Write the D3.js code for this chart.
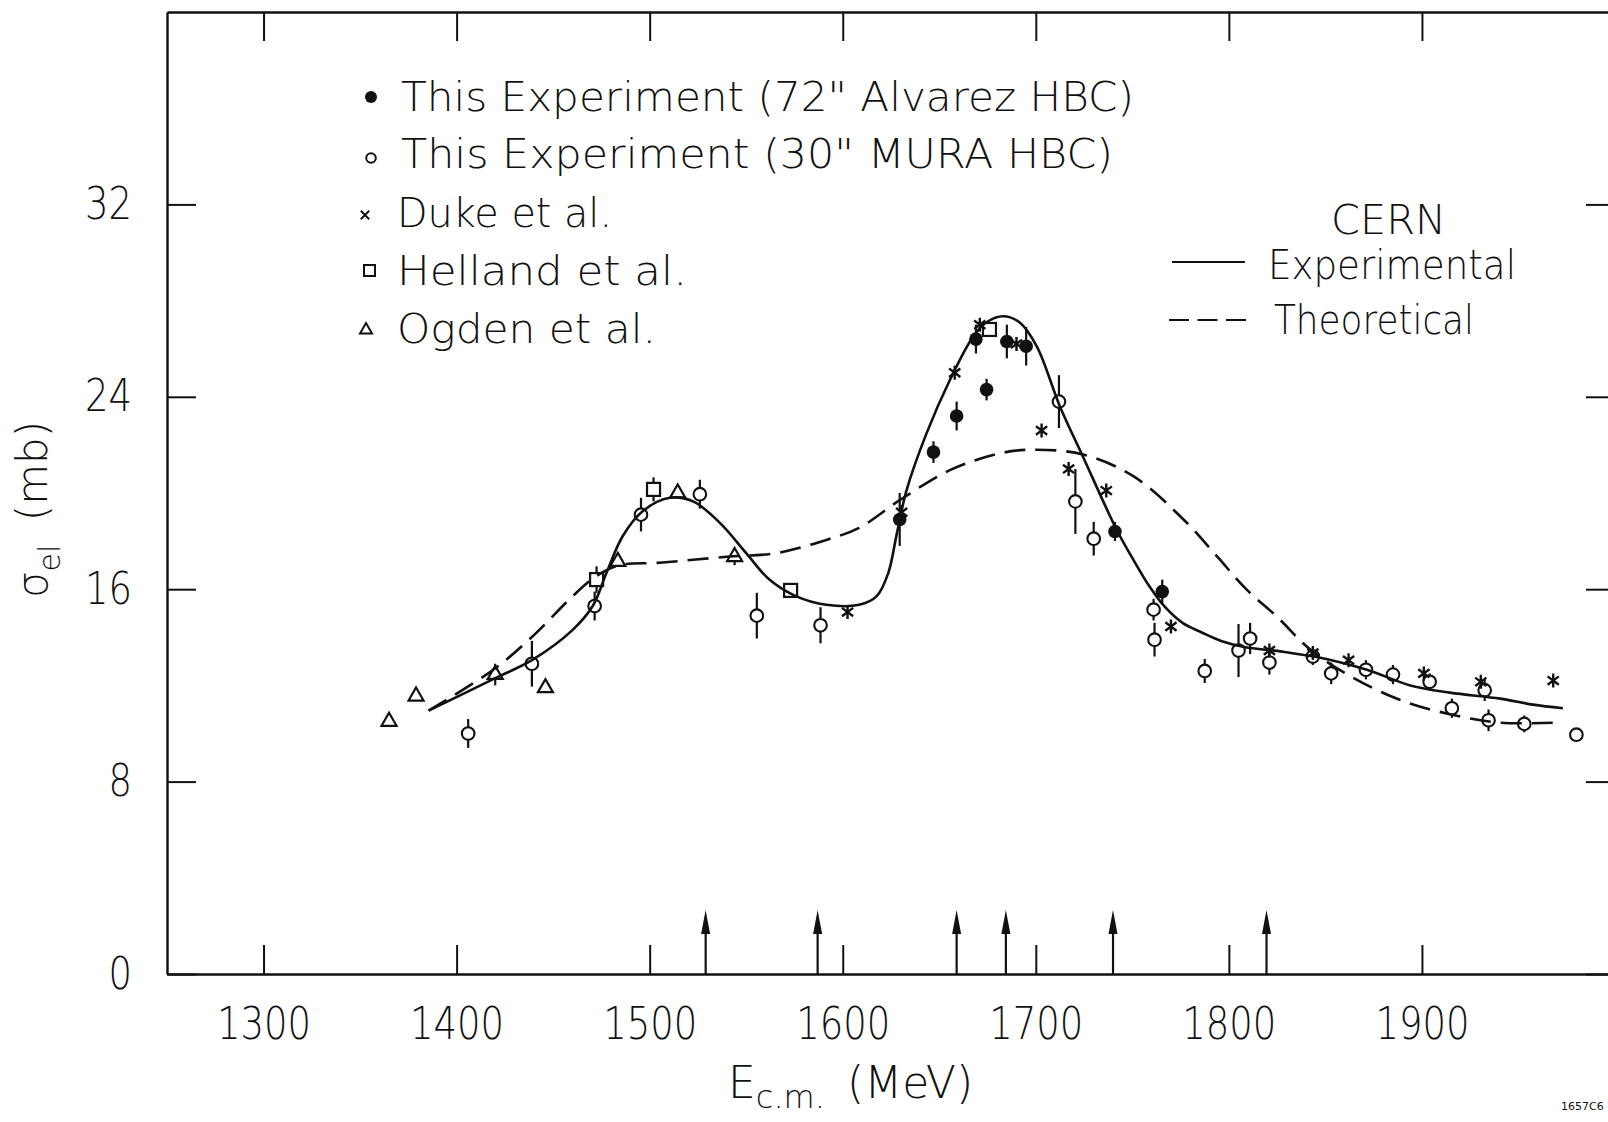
<!DOCTYPE html>
<html>
<head>
<meta charset="utf-8">
<script src="https://cdn.jsdelivr.net/npm/d3@7"></script>
<style>
  body { margin: 0; background: #ffffff; }
</style>
</head>
<body>
<div id="vis-container"></div>
<script>
// this experiment, 72" alvarez hbc (filled circles)
var alvarezE = [1629.5, 1647, 1659, 1669, 1674.5, 1685, 1695, 1741, 1765.5];
var alvarezS = [18.9, 21.7, 23.2, 26.4, 24.3, 26.3, 26.1, 18.4, 15.9];
var alvarezErr = [1.1, 0.45, 0.6, 0.6, 0.45, 0.7, 0.8, 0.4, 0.5];

// this experiment, 30" mura hbc (open circles)
var muraE = [1406, 1439, 1471.5, 1495.5, 1526, 1555.5, 1588.5, 1712, 1720.5, 1730, 1761, 1761.5, 1787.5,
	1805, 1811, 1821, 1843.5, 1853, 1871, 1885, 1904, 1915.5, 1932.5, 1934.5, 1953, 1980];
var muraS = [10.0, 12.9, 15.3, 19.1, 19.95, 14.9, 14.5, 23.8, 19.65, 18.1, 15.15, 13.9, 12.6,
	13.45, 13.95, 12.95, 13.2, 12.5, 12.65, 12.45, 12.15, 11.05, 11.8, 10.55, 10.4, 9.95];
var muraErr = [0.6, 0.95, 0.6, 0.7, 0.6, 0.95, 0.75, 1.1, 1.35, 0.7, 0.45, 0.7, 0.5,
	1.1, 0.65, 0.5, 0.35, 0.45, 0.4, 0.4, 0.35, 0.4, 0.45, 0.45, 0.35, 0];

// duke et al. (asterisks)
var dukeE = [1602.5, 1630.5, 1658, 1671, 1690, 1703, 1717, 1736.5, 1770, 1821, 1843.5, 1862, 1901, 1930.5, 1968];
var dukeS = [15.05, 19.2, 25.0, 27.0, 26.2, 22.6, 21.0, 20.1, 14.45, 13.45, 13.35, 13.05, 12.5, 12.15, 12.2];

// helland et al. (squares)
var hellandE = [1472.5, 1502, 1573, 1676];
var hellandS = [16.4, 20.15, 15.95, 26.8];
var hellandErr = [0.55, 0.5, 0, 0];

// ogden et al. (triangles)
var ogdenE = [1365, 1379, 1420, 1446, 1483.5, 1514.5, 1544];
var ogdenS = [10.5, 11.55, 12.45, 11.9, 17.15, 20.0, 17.35];
var ogdenErr = [0, 0, 0.45, 0, 0, 0, 0.35];

// cern experimental curve (solid)
var expE = [1385.5, 1420, 1439, 1460, 1470.5, 1477.5, 1486, 1496.5, 1510.5, 1522.5, 1536.5, 1550, 1562,
	1576, 1591.5, 1608.5, 1617.5, 1623.5, 1628, 1633, 1643.5, 1655.5, 1667.5, 1674.5, 1683, 1691.5,
	1700.5, 1712.5, 1724.5, 1742, 1750, 1759, 1767, 1776, 1786, 1796, 1808, 1828, 1850.5, 1871.5, 1894,
	1914.5, 1940.5, 1957.5, 1973];
var expS = [10.95, 12.3, 13.05, 14.3, 15.3, 16.65, 18.2, 19.25, 19.8, 19.65, 18.75, 17.5, 16.4,
	15.7, 15.35, 15.35, 15.7, 16.65, 18.3, 20.1, 22.5, 24.7, 26.5, 27.1, 27.35, 27.1,
	26.1, 23.6, 21.5, 18.45, 17.3, 16.1, 15.25, 14.6, 14.2, 13.85, 13.6, 13.4, 13.1, 12.65, 12.0,
	11.7, 11.45, 11.2, 11.05];

// cern theoretical curve (dashed)
var thE = [1385.5, 1419, 1439.5, 1460, 1472.5, 1484.5, 1505, 1540, 1565.5, 1591.5, 1608.5, 1629.5, 1655.5,
	1681.5, 1698.5, 1724.5, 1750.5, 1776.5, 1794, 1809, 1825, 1842, 1862.5, 1888.5, 1914.5, 1940.5, 1968];
var thS = [10.95, 12.65, 14.05, 15.7, 16.55, 17.0, 17.1, 17.35, 17.5, 18.05, 18.55, 19.7, 20.95,
	21.65, 21.8, 21.6, 20.7, 18.9, 17.35, 16.0, 14.85, 13.5, 12.4, 11.4, 10.8, 10.45, 10.45];

// resonance arrows
var arrowE = [1529, 1587, 1659, 1684.5, 1740, 1819.5];

// ticks
var xTicks = [1300, 1400, 1500, 1600, 1700, 1800, 1900];
var yTicks = [0, 8, 16, 24, 32];

var legendLabels = ["This Experiment (72\" Alvarez HBC)", "This Experiment (30\" MURA HBC)",
	"Duke et al.", "Helland et al.", "Ogden et al."];
var cernLabels = ["CERN", "Experimental", "Theoretical"];

// ------------------------------------------------------------
var width = 1608;
var height = 1122;
var font = "'DejaVu Sans', 'Liberation Sans', sans-serif";
var tickLen = 29;

var svg = d3.select("#vis-container")
	.append("svg")
	.attr("width", width)
	.attr("height", height)
	.style("background-color", "#ffffff");

var x = d3.scaleLinear().domain([1250, 2000]).range([167, 1615]);
var y = d3.scaleLinear().domain([0, 40]).range([974, 12]);

// axes (frame with inward ticks)
var gBottom = svg.append("g")
	.attr("transform", "translate(0," + y(0) + ")")
	.call(d3.axisBottom(x).tickValues(xTicks).tickFormat(d3.format("d"))
		.tickSizeInner(-tickLen).tickSizeOuter(0).tickPadding(34));
var gTop = svg.append("g")
	.attr("transform", "translate(0," + y(40) + ")")
	.call(d3.axisTop(x).tickValues(xTicks).tickSizeInner(-tickLen).tickSizeOuter(0).tickFormat(""));
var gLeft = svg.append("g")
	.attr("transform", "translate(" + x(1250) + ",0)")
	.call(d3.axisLeft(y).tickValues(yTicks).tickSizeInner(-tickLen).tickSizeOuter(0).tickPadding(35));
var gRight = svg.append("g")
	.attr("transform", "translate(" + x(2000) + ",0)")
	.call(d3.axisRight(y).tickValues(yTicks).tickSizeInner(-tickLen).tickSizeOuter(0).tickFormat(""));

[gBottom, gTop, gLeft, gRight].forEach(function (g) {
	g.attr("font-family", font).attr("font-size", 44);
	g.select(".domain").attr("stroke", "#111").attr("stroke-width", 2.4);
	g.selectAll(".tick line").attr("stroke", "#111").attr("stroke-width", 2);
	g.selectAll(".tick text")
		.attr("fill", "#111")
		.attr("font-weight", 200)
		.each(function () {
			d3.select(this)
				.attr("textLength", this.textContent.length * 23.5)
				.attr("lengthAdjust", "spacingAndGlyphs");
		});
});

// curves
var line = d3.line()
	.x(function (d) { return x(d[0]); })
	.y(function (d) { return y(d[1]); })
	.curve(d3.curveCatmullRom);

var plot = svg.append("g");

// error bars first, so open symbols sit on top of them
function errorBars(es, ss, errs) {
	for (var i = 0; i < es.length; ++i) {
		if (!errs[i]) continue;
		plot.append("line")
			.attr("x1", x(es[i])).attr("x2", x(es[i]))
			.attr("y1", y(ss[i] - errs[i])).attr("y2", y(ss[i] + errs[i]))
			.attr("stroke", "#111")
			.attr("stroke-width", 2.2);
	}
}
errorBars(alvarezE, alvarezS, alvarezErr);
errorBars(muraE, muraS, muraErr);
errorBars(hellandE, hellandS, hellandErr);
errorBars(ogdenE, ogdenS, ogdenErr);

function asterisk(cx, cy, s) {
	return "M" + cx + "," + (cy - s) + "L" + cx + "," + (cy + s) +
		"M" + (cx - s * 0.8) + "," + (cy - s * 0.6) + "L" + (cx + s * 0.8) + "," + (cy + s * 0.6) +
		"M" + (cx - s * 0.8) + "," + (cy + s * 0.6) + "L" + (cx + s * 0.8) + "," + (cy - s * 0.6);
}
function cross(cx, cy, s) {
	return "M" + (cx - s) + "," + (cy - s) + "L" + (cx + s) + "," + (cy + s) +
		"M" + (cx - s) + "," + (cy + s) + "L" + (cx + s) + "," + (cy - s);
}
function triangle(cx, cy, s) {
	var h = s * Math.sqrt(3) / 2;
	return "M" + cx + "," + (cy - h * 2 / 3) + "L" + (cx + s / 2) + "," + (cy + h / 3) +
		"L" + (cx - s / 2) + "," + (cy + h / 3) + "Z";
}

// ogden triangles
for (var i = 0; i < ogdenE.length; ++i) {
	plot.append("path")
		.attr("d", triangle(x(ogdenE[i]), y(ogdenS[i]), 15))
		.attr("fill", "#fff").attr("stroke", "#111").attr("stroke-width", 2.2);
}
// helland squares
for (var i = 0; i < hellandE.length; ++i) {
	plot.append("rect")
		.attr("x", x(hellandE[i]) - 6.5).attr("y", y(hellandS[i]) - 6.5)
		.attr("width", 13).attr("height", 13)
		.attr("fill", "#fff").attr("stroke", "#111").attr("stroke-width", 2.2);
}
// mura open circles
for (var i = 0; i < muraE.length; ++i) {
	plot.append("circle")
		.attr("cx", x(muraE[i])).attr("cy", y(muraS[i])).attr("r", 6.3)
		.attr("fill", "#fff").attr("stroke", "#111").attr("stroke-width", 2.1);
}
// alvarez filled circles
for (var i = 0; i < alvarezE.length; ++i) {
	plot.append("circle")
		.attr("cx", x(alvarezE[i])).attr("cy", y(alvarezS[i])).attr("r", 6.8)
		.attr("fill", "#111");
}
// duke asterisks
for (var i = 0; i < dukeE.length; ++i) {
	plot.append("path")
		.attr("d", asterisk(x(dukeE[i]), y(dukeS[i]), 7))
		.attr("fill", "none").attr("stroke", "#111").attr("stroke-width", 2.4);
}

plot.append("path")
	.attr("d", line(expE.map(function (e, i) { return [e, expS[i]]; })))
	.attr("fill", "none").attr("stroke", "#111").attr("stroke-width", 2.6);
plot.append("path")
	.attr("d", line(thE.map(function (e, i) { return [e, thS[i]]; })))
	.attr("fill", "none").attr("stroke", "#111").attr("stroke-width", 2.6)
	.attr("stroke-dasharray", "21,10");

// arrows on the energy axis
var arrowLen = 64, headLen = 24;
for (var i = 0; i < arrowE.length; ++i) {
	var ax = x(arrowE[i]);
	plot.append("line")
		.attr("x1", ax).attr("x2", ax)
		.attr("y1", y(0)).attr("y2", y(0) - arrowLen + headLen - 2)
		.attr("stroke", "#111").attr("stroke-width", 2.2);
	plot.append("path")
		.attr("d", "M" + ax + "," + (y(0) - arrowLen) + "L" + (ax + 4.5) + "," + (y(0) - arrowLen + headLen) +
			"L" + (ax - 4.5) + "," + (y(0) - arrowLen + headLen) + "Z")
		.attr("fill", "#111");
}

// legend for the data sets
var legend = svg.append("g").attr("font-family", font).attr("font-weight", 200).attr("fill", "#111");
var legBase = [111, 168, 227, 285, 343];
var legX = [401, 401, 397, 397, 397];
var legW = [733, 712, 215, 290, 259];
for (var i = 0; i < legendLabels.length; ++i) {
	legend.append("text")
		.attr("x", legX[i]).attr("y", legBase[i])
		.attr("font-size", 40)
		.attr("textLength", legW[i])
		.attr("lengthAdjust", "spacingAndGlyphs")
		.text(legendLabels[i]);
}
legend.append("circle").attr("cx", 371).attr("cy", legBase[0] - 14).attr("r", 6).attr("fill", "#111");
legend.append("circle").attr("cx", 371).attr("cy", legBase[1] - 10).attr("r", 4.8)
	.attr("fill", "#fff").attr("stroke", "#111").attr("stroke-width", 2);
legend.append("path").attr("d", cross(365, legBase[2] - 12, 4.2))
	.attr("fill", "none").attr("stroke", "#111").attr("stroke-width", 2);
legend.append("rect").attr("x", 364).attr("y", legBase[3] - 20).attr("width", 11).attr("height", 11)
	.attr("fill", "#fff").attr("stroke", "#111").attr("stroke-width", 2);
legend.append("path").attr("d", triangle(366, legBase[4] - 13, 12))
	.attr("fill", "#fff").attr("stroke", "#111").attr("stroke-width", 2);

// legend for the cern curves
var cernX = [1331, 1268, 1274];
var cernBase = [234, 279, 334];
var cernW = [115, 248, 200];
for (var i = 0; i < cernLabels.length; ++i) {
	legend.append("text")
		.attr("x", cernX[i]).attr("y", cernBase[i])
		.attr("font-size", 40)
		.attr("textLength", cernW[i])
		.attr("lengthAdjust", "spacingAndGlyphs")
		.text(cernLabels[i]);
}
legend.append("line").attr("x1", 1172).attr("x2", 1245).attr("y1", 262).attr("y2", 262)
	.attr("stroke", "#111").attr("stroke-width", 2);
legend.append("line").attr("x1", 1169).attr("x2", 1246).attr("y1", 320).attr("y2", 320)
	.attr("stroke", "#111").attr("stroke-width", 2).attr("stroke-dasharray", "20,8.5");

// axis titles
var ylab = svg.append("text")
	.attr("transform", "translate(47,598) rotate(-90)")
	.attr("font-family", font).attr("font-weight", 200).attr("font-size", 42).attr("fill", "#111");
ylab.append("tspan").text("σ");
ylab.append("tspan").attr("font-size", 30).attr("dy", 13).text("el");
ylab.append("tspan").attr("dy", -13).attr("dx", 10).text(" (mb)");

var xlab = svg.append("text")
	.attr("x", 728).attr("y", 1098)
	.attr("font-family", font).attr("font-weight", 200).attr("font-size", 44).attr("fill", "#111");
xlab.append("tspan").text("E");
xlab.append("tspan").attr("font-size", 32).attr("dy", 10).text("c.m.");
xlab.append("tspan").attr("dy", -10).attr("x", 847).text("(MeV)");

svg.append("text")
	.attr("x", 1561).attr("y", 1110)
	.attr("font-family", font).attr("font-size", 11).attr("fill", "#111")
	.text("1657C6");
</script>
</body>
</html>
